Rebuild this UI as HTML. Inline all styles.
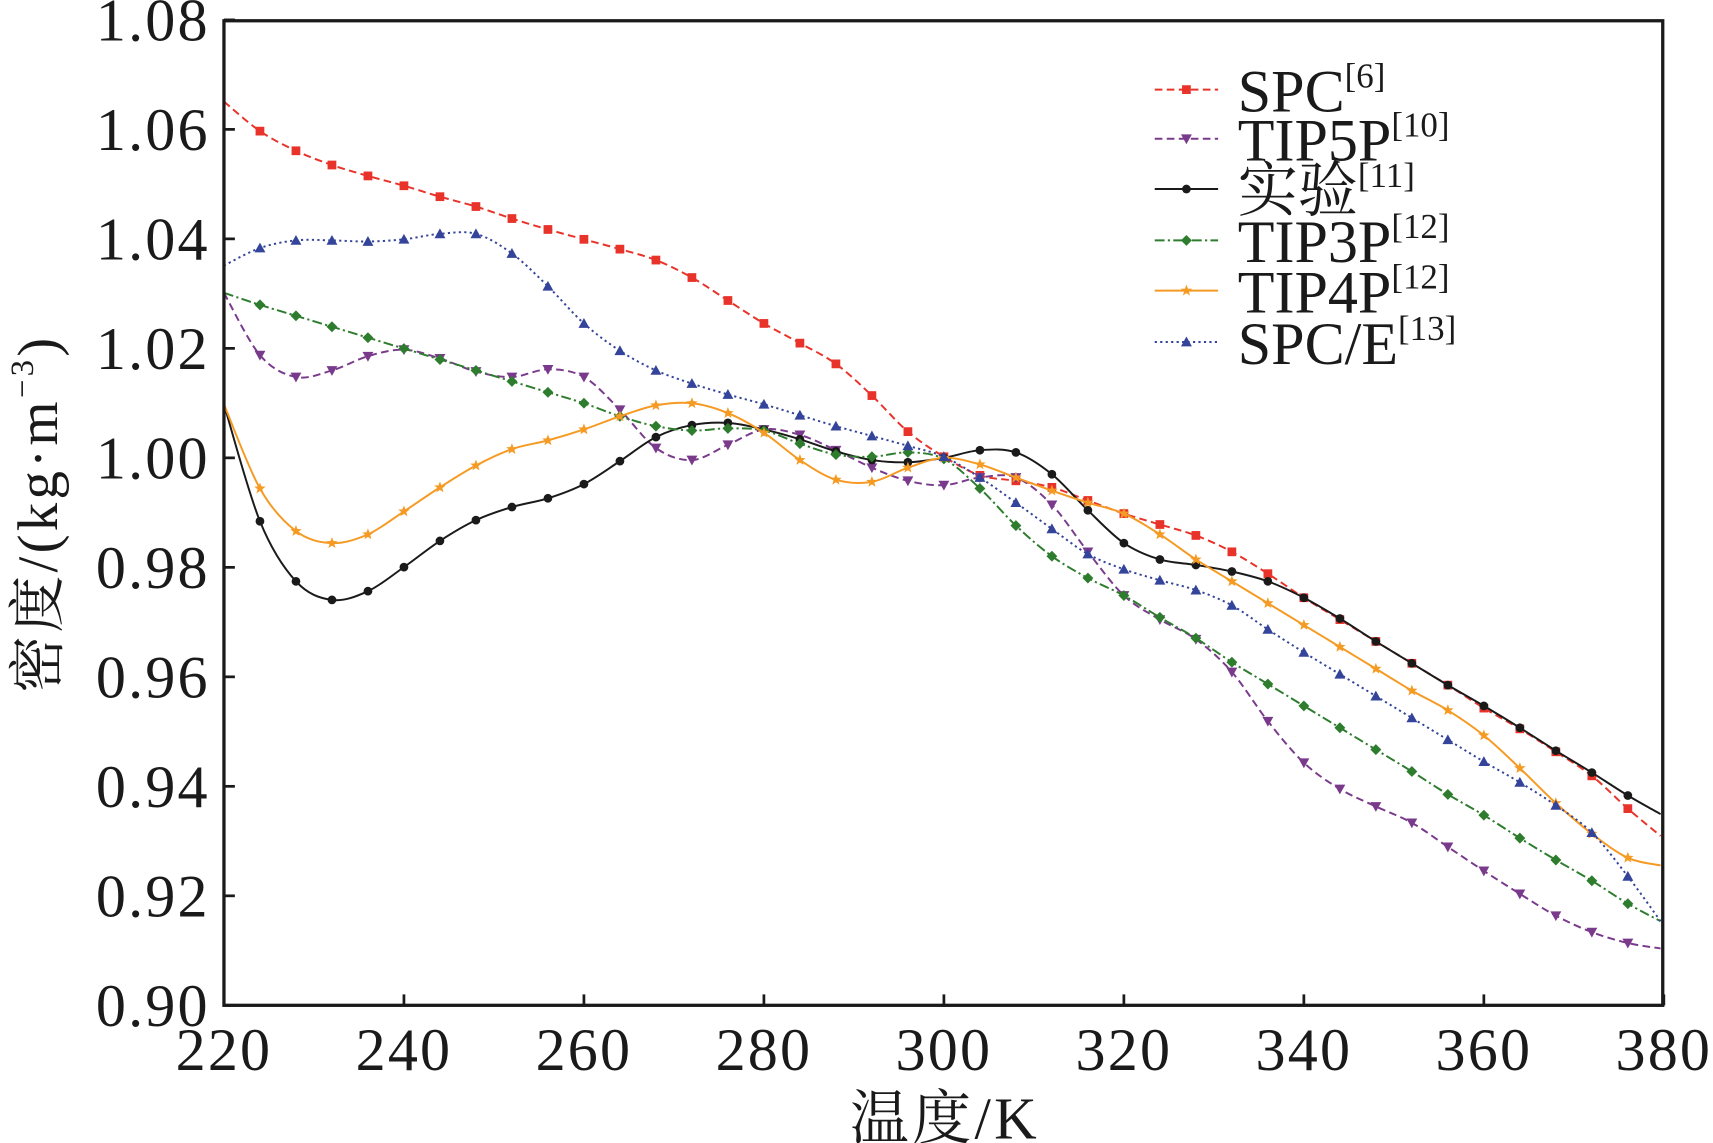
<!DOCTYPE html>
<html><head><meta charset="utf-8"><style>html,body{margin:0;padding:0;background:#fff}svg{display:block}</style></head>
<body>
<svg id="s" width="1713" height="1143" viewBox="0 0 1568 1046" preserveAspectRatio="none" xmlns="http://www.w3.org/2000/svg" font-family="'Liberation Serif','Noto Serif CJK SC',serif" fill="#1a1a1a">
<rect x="0" y="0" width="1568" height="1046" fill="#fff"/>
<g id="plot"></g>
<rect x="205" y="19" width="1317" height="901" fill="none" stroke="#1a1a1a" stroke-width="3"/>
<g id="ticks" stroke="#1a1a1a" stroke-width="2.5"></g>
<g id="labels" font-size="55" letter-spacing="2"></g>
<text x="865" y="1042" font-size="54" text-anchor="middle" letter-spacing="3">温度/K</text>
<text transform="translate(52,470) rotate(-90)" font-size="52" text-anchor="middle" letter-spacing="3">密度/(kg·m<tspan dy="-22" font-size="30">−3</tspan><tspan dy="22">)</tspan></text>
<g id="legend" font-size="55"></g>
</svg>
<script>
const NS="http://www.w3.org/2000/svg";
function el(t,a,p){const e=document.createElementNS(NS,t);for(const k in a)e.setAttribute(k,a[k]);p.appendChild(e);return e;}
const X=[];for(let T=220;T<=376;T+=4)X.push(205+8.2375*(T-220));X.push(1520);
const D={
spc:[93,120,138,151,161,170,180,189,200,210,219,228,238,254,275,296,314,333,362,395,418,435,440,446,458,470,480,490,505,525,547,567,587,607,627,648,667,688,710,740,765],
t5:[268,325,345,339,326,320,328,340,345,338,345,375,410,421,407,393,398,412,428,440,444,437,437,462,505,545,567,585,615,660,698,722,738,753,775,797,818,838,853,863,868],
ex:[370,477,532,549,541,519,495,476,464,456,443,422,400,389,387,393,402,413,421,423,419,412,414,434,467,497,512,517,523,532,547,566,587,607,627,646,666,687,707,728,745],
t3:[268,279,289,299,309,319,329,339,349,359,369,381,390,394,392,394,406,416,418,414,420,447,481,509,529,545,565,584,606,626,646,666,686,706,727,746,767,787,806,827,843],
t4:[370,447,486,497,489,468,446,426,411,403,393,381,371,369,378,396,421,439,441,428,419,425,437,449,460,470,489,512,532,552,572,592,612,632,650,673,703,735,763,785,792],
se:[243,227,220,220,221,219,214,214,232,262,296,321,339,351,361,370,380,390,399,408,418,437,460,484,507,521,531,540,554,576,597,617,637,657,677,697,716,737,762,802,843]};
const S=[
{k:'spc',c:'#e8332a',d:'7,4',m:'sq',l:'SPC',r:'[6]'},
{k:'t5',c:'#7a3a8c',d:'7,4',m:'tv',l:'TIP5P',r:'[10]'},
{k:'ex',c:'#1a1a1a',d:'',m:'ci',l:'实验',r:'[11]'},
{k:'t3',c:'#2e7d2e',d:'9,3,2,3',m:'di',l:'TIP3P',r:'[12]'},
{k:'t4',c:'#f59a23',d:'',m:'st',l:'TIP4P',r:'[12]'},
{k:'se',c:'#34449a',d:'2,3',m:'tu',l:'SPC/E',r:'[13]'}];
function path(xs,ys){let d=`M${xs[0]},${ys[0]}`;for(let i=0;i<xs.length-1;i++){const x0=xs[i-1]??xs[i],y0=ys[i-1]??ys[i],x3=xs[i+2]??xs[i+1],y3=ys[i+2]??ys[i+1];
d+=` C${xs[i]+(xs[i+1]-x0)/6},${ys[i]+(ys[i+1]-y0)/6} ${xs[i+1]-(x3-xs[i])/6},${ys[i+1]-(y3-ys[i])/6} ${xs[i+1]},${ys[i+1]}`;}return d;}
function mark(t,x,y,c,g){const s=4;
if(t=='sq')el('rect',{x:x-s,y:y-s,width:2*s,height:2*s,fill:c},g);
else if(t=='ci')el('circle',{cx:x,cy:y,r:s,fill:c},g);
else if(t=='tv')el('polygon',{points:`${x-5},${y-4} ${x+5},${y-4} ${x},${y+5}`,fill:c},g);
else if(t=='tu')el('polygon',{points:`${x-5},${y+4} ${x+5},${y+4} ${x},${y-5}`,fill:c},g);
else if(t=='di')el('polygon',{points:`${x},${y-5} ${x+5},${y} ${x},${y+5} ${x-5},${y}`,fill:c},g);
else{let p=[];for(let i=0;i<10;i++){const r=i%2?2.3:5.5,a=-Math.PI/2+i*Math.PI/5;p.push((x+r*Math.cos(a))+','+(y+r*Math.sin(a)));}el('polygon',{points:p.join(' '),fill:c},g);}}
const P=document.getElementById('plot');
S.forEach(s=>{el('path',{d:path(X,D[s.k]),fill:'none',stroke:s.c,'stroke-width':1.8,'stroke-dasharray':s.d},P);
for(let i=1;i<X.length-1;i++)mark(s.m,X[i],D[s.k][i],s.c,P);});
const TK=document.getElementById('ticks'),L=document.getElementById('labels');
for(let i=0;i<=9;i++){const y=920-i*100.2;el('line',{x1:205,y1:y,x2:215,y2:y},TK);
el('text',{x:192,y:y+19,'text-anchor':'end'},L).textContent=(0.90+i*0.02).toFixed(2);}
for(let i=0;i<=8;i++){const x=205+i*164.75;el('line',{x1:x,y1:920,x2:x,y2:910},TK);
el('text',{x:x,y:979,'text-anchor':'middle'},L).textContent=220+20*i;}
const LG=document.getElementById('legend');const ry=[82,127,173,220,266,313];
S.forEach((s,i)=>{const y=ry[i];el('line',{x1:1057,y1:y,x2:1115,y2:y,stroke:s.c,'stroke-width':1.8,'stroke-dasharray':s.d},LG);
mark(s.m,1086,y,s.c,LG);const t=el('text',{x:1133,y:y+20},LG);t.textContent=s.l;
const sp=el('tspan',{dy:-22,'font-size':32},t);sp.textContent=s.r;});
</script>
</body></html>
